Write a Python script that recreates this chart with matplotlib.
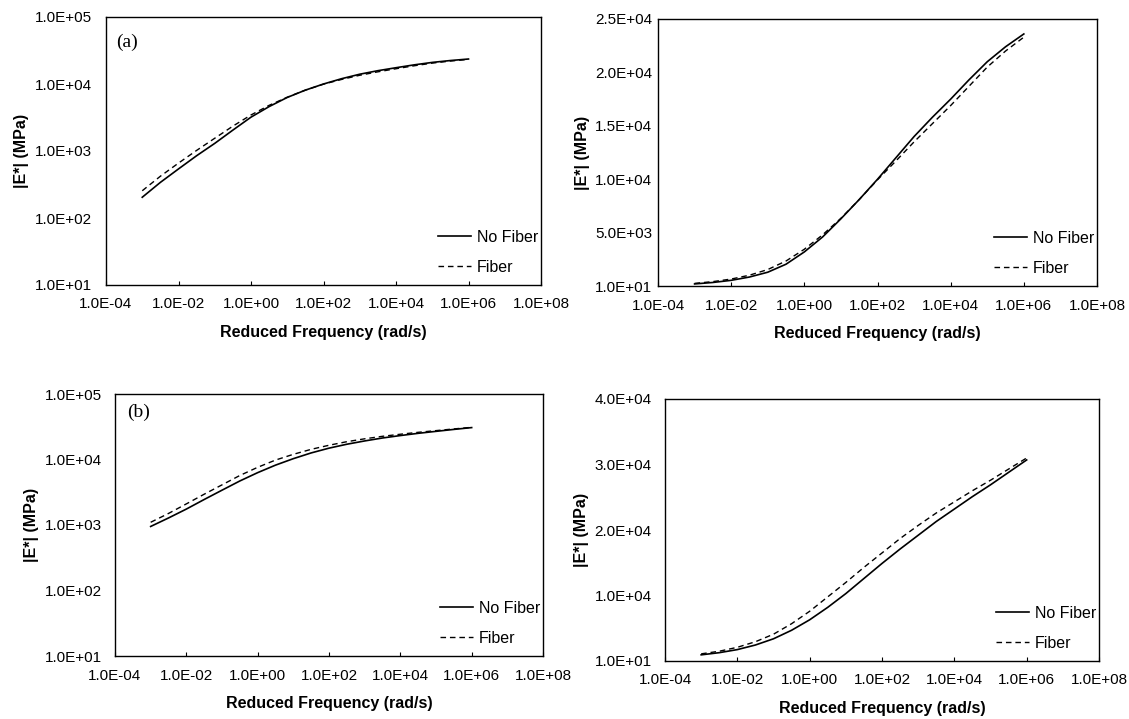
import numpy as np
import matplotlib
matplotlib.use('Agg')
import matplotlib.pyplot as plt
from matplotlib.ticker import FixedLocator, FuncFormatter

plt.rcParams['font.family'] = ['Liberation Sans', 'DejaVu Sans']

# reduced frequency (rad/s), half-decade steps from 1e-3 to 1e6
freq = [1e-3, 3.16e-3, 1e-2, 3.16e-2, 1e-1, 3.16e-1, 1e0, 3.16e0, 1e1, 3.16e1,
        1e2, 3.16e2, 1e3, 3.16e3, 1e4, 3.16e4, 1e5, 3.16e5, 1e6]

# mix (a) |E*| in MPa
a_no_fiber = [204, 340, 540, 850, 1300, 2050, 3200, 4600, 6300, 8100,
              10000, 12000, 14000, 15800, 17500, 19300, 21000, 22400, 23600]
a_fiber = [255, 420, 660, 1020, 1550, 2350, 3450, 4800, 6350, 8100,
           9950, 11700, 13500, 15200, 16900, 18700, 20500, 22000, 23300]

# mix (b) |E*| in MPa
b_no_fiber = [950, 1280, 1750, 2450, 3400, 4700, 6300, 8200, 10300, 12600,
              14900, 17100, 19200, 21300, 23200, 25100, 26900, 28800, 30700]
b_fiber = [1100, 1500, 2100, 2950, 4100, 5700, 7600, 9800, 12000, 14300,
           16500, 18700, 20700, 22600, 24300, 26000, 27600, 29300, 31000]

x_ticks = [1e-4, 1e-2, 1e0, 1e2, 1e4, 1e6, 1e8]
log_y_ticks = [1e1, 1e2, 1e3, 1e4, 1e5]
lin_y_ticks_a = [10, 5000, 10000, 15000, 20000, 25000]
lin_y_ticks_b = [10, 10000, 20000, 30000, 40000]


def sci(v, pos=None):
    return '%.1E' % v


fig = plt.figure(figsize=(11.29, 7.19), dpi=100)
W, H = 1129.0, 719.0
# axes boxes in pixels: left, top, right, bottom
boxes = [(106, 17, 541, 285), (658, 19, 1097, 286),
         (115, 394, 543, 656), (665, 399, 1099, 661)]
ytick_pad = [10, 4, 9.5, 9.5]
tag_offset = [(10, 25), (None, None), (12, 18), (None, None)]

panels = [(a_no_fiber, a_fiber, 'log', log_y_ticks, '(a)'),
          (a_no_fiber, a_fiber, 'linear', lin_y_ticks_a, None),
          (b_no_fiber, b_fiber, 'log', log_y_ticks, '(b)'),
          (b_no_fiber, b_fiber, 'linear', lin_y_ticks_b, None)]

for i, (nf, f, yscale, yt, tag) in enumerate(panels):
    l, t, r, b = boxes[i]
    ax = fig.add_axes([l / W, 1 - b / H, (r - l) / W, (b - t) / H])
    ax.plot(freq, nf, color='black', lw=1.2, label='No Fiber')
    ax.plot(freq, f, color='black', lw=1.0, ls=(0, (4, 2.8)), label='Fiber')
    ax.set_xscale('log')
    ax.set_yscale(yscale)
    ax.set_xlim(1e-4, 1e8)
    ax.set_ylim(yt[0], yt[-1])
    ax.xaxis.set_major_locator(FixedLocator(x_ticks))
    ax.xaxis.set_minor_locator(FixedLocator([]))
    ax.yaxis.set_major_locator(FixedLocator(yt))
    ax.yaxis.set_minor_locator(FixedLocator([]))
    ax.xaxis.set_major_formatter(FuncFormatter(sci))
    ax.yaxis.set_major_formatter(FuncFormatter(sci))
    ax.tick_params(axis='x', direction='in', length=3, width=0.8, labelsize=11, pad=9)
    ax.tick_params(axis='y', length=0, labelsize=11, pad=ytick_pad[i])
    for sp in ax.spines.values():
        sp.set_linewidth(1.0)
    ax.set_xlabel('Reduced Frequency (rad/s)', fontsize=11.5, fontweight='bold', labelpad=10)
    ax.set_ylabel('|E*| (MPa)', fontsize=11.5, fontweight='bold', labelpad=4)
    hgt = float(b - t)
    wid = float(r - l)
    ax.legend(loc='lower right', frameon=False, fontsize=11.5, handlelength=2.1,
              handletextpad=0.35, labelspacing=0.95, borderpad=0, borderaxespad=0,
              bbox_to_anchor=(1 - 3 / wid, 10 / hgt))
    if tag:
        dx, dy = tag_offset[i]
        ax.annotate(tag, xy=(0, 1), xycoords='axes fraction',
                    xytext=(dx * 0.72, -dy * 0.72), textcoords='offset points',
                    ha='left', va='center', fontsize=14, family='Liberation Serif')

fig.savefig('out.png', dpi=100)
